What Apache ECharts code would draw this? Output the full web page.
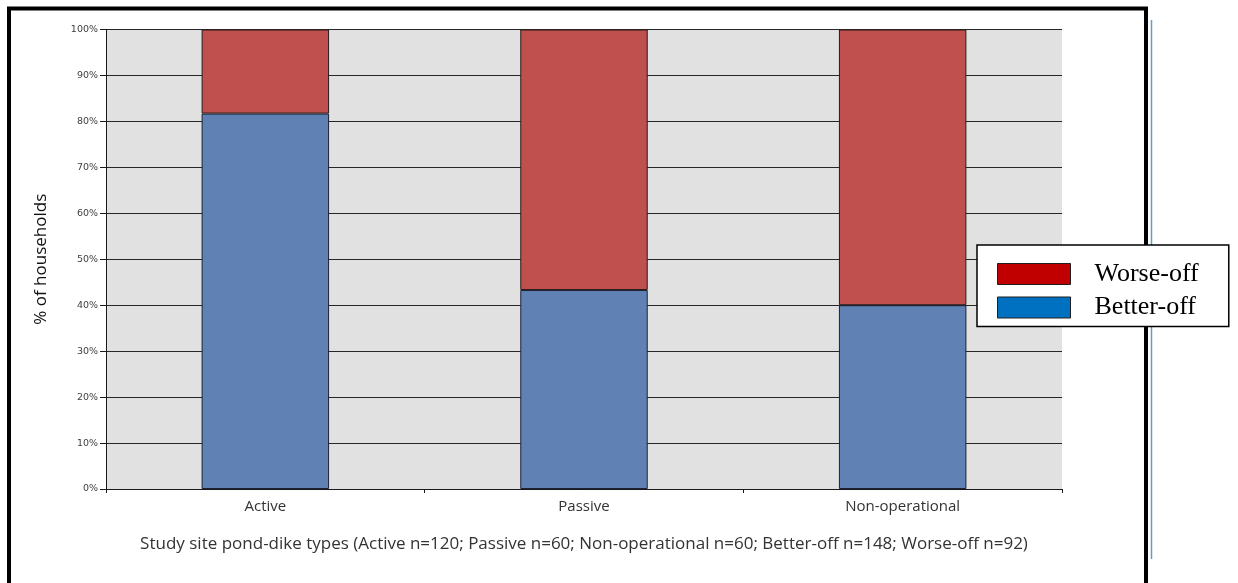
<!DOCTYPE html>
<html>
<head>
<meta charset="utf-8">
<script src="https://cdn.jsdelivr.net/npm/echarts@6/dist/echarts.min.js"></script>
<style>
  html, body { margin: 0; padding: 0; background: #ffffff; }
  #chart { width: 1238px; height: 583px; }
</style>
</head>
<body>
<div id="chart"></div>
<script>
// Pond-dike types and share of households in each wellbeing group (%)
const categories = ['Active', 'Passive', 'Non-operational'];
const betterOff = [81.7, 43.3, 40.0];
const worseOff = [18.3, 56.7, 60.0];
const yTicks = [0, 10, 20, 30, 40, 50, 60, 70, 80, 90, 100];

const xTitle = 'Study site pond-dike types (Active n=120; Passive n=60; Non-operational n=60; Better-off n=148; Worse-off n=92)';
const yTitle = '% of households';

const chart = echarts.init(document.getElementById('chart'), null, { renderer: 'canvas' });

const option = {
  animation: false,
  backgroundColor: '#ffffff',
  grid: {
    left: 106, top: 29.5, right: 176, bottom: 94,
    show: true, backgroundColor: '#e1e1e1', borderWidth: 0
  },
  legend: {
    orient: 'vertical',
    left: 977, top: 245,
    z: 200,
    backgroundColor: '#ffffff',
    borderColor: '#000000',
    borderWidth: 1.5,
    padding: [16, 30, 6, 20],
    itemWidth: 73, itemHeight: 21, itemGap: 7.5,
    selectedMode: false,
    textStyle: {
      fontFamily: 'Liberation Serif', fontSize: 26, color: '#000000',
      padding: [0, 0, 0, 19]
    },
    data: [
      { name: 'Worse-off', icon: 'rect', itemStyle: { color: '#c00000', borderColor: '#202020', borderWidth: 1 } },
      { name: 'Better-off', icon: 'rect', itemStyle: { color: '#0070c0', borderColor: '#202020', borderWidth: 1 } }
    ]
  },
  xAxis: {
    type: 'category',
    data: categories,
    name: xTitle,
    nameLocation: 'middle',
    nameGap: 47,
    nameTextStyle: { fontFamily: 'Open Sans', fontSize: 17, color: '#333333' },
    axisLine: { lineStyle: { color: '#1a1a1a', width: 1 } },
    axisTick: { show: true, alignWithLabel: false, length: 4, lineStyle: { color: '#1a1a1a' } },
    axisLabel: { margin: 10, fontFamily: 'Open Sans', fontSize: 15, color: '#333333' }
  },
  yAxis: {
    type: 'value',
    min: yTicks[0], max: yTicks[yTicks.length - 1], interval: 10,
    name: yTitle,
    nameLocation: 'middle',
    nameGap: 56,
    nameTextStyle: { fontFamily: 'Open Sans', fontSize: 17, color: '#111111' },
    axisLine: { show: true, lineStyle: { color: '#1a1a1a', width: 1 } },
    axisTick: { show: true, length: 6, lineStyle: { color: '#1a1a1a' } },
    axisLabel: {
      margin: 8, fontFamily: 'DejaVu Sans', fontSize: 9.5, color: '#404040',
      formatter: v => v + '%'
    },
    splitLine: { show: true, lineStyle: { color: '#262626', width: 1 } }
  },
  series: [
    {
      name: 'Better-off', type: 'bar', stack: 'share',
      data: betterOff,
      barWidth: '40%',
      itemStyle: { color: '#5f81b3', borderColor: '#1c2233', borderWidth: 1 }
    },
    {
      name: 'Worse-off', type: 'bar', stack: 'share',
      data: worseOff,
      barWidth: '40%',
      itemStyle: { color: '#bf504d', borderColor: '#2a1a1a', borderWidth: 1 }
    }
  ],
  graphic: [
    {
      type: 'rect', silent: true, z: 10,
      shape: { x: 9, y: 8.5, width: 1137, height: 620 },
      style: { fill: null, stroke: '#000000', lineWidth: 4 }
    },
    {
      type: 'line', silent: true, z: 10,
      shape: { x1: 1151.5, y1: 20, x2: 1151.5, y2: 559 },
      style: { stroke: '#5f9fcc', lineWidth: 1.5 }
    }
  ]
};

chart.setOption(option);
</script>
</body>
</html>
